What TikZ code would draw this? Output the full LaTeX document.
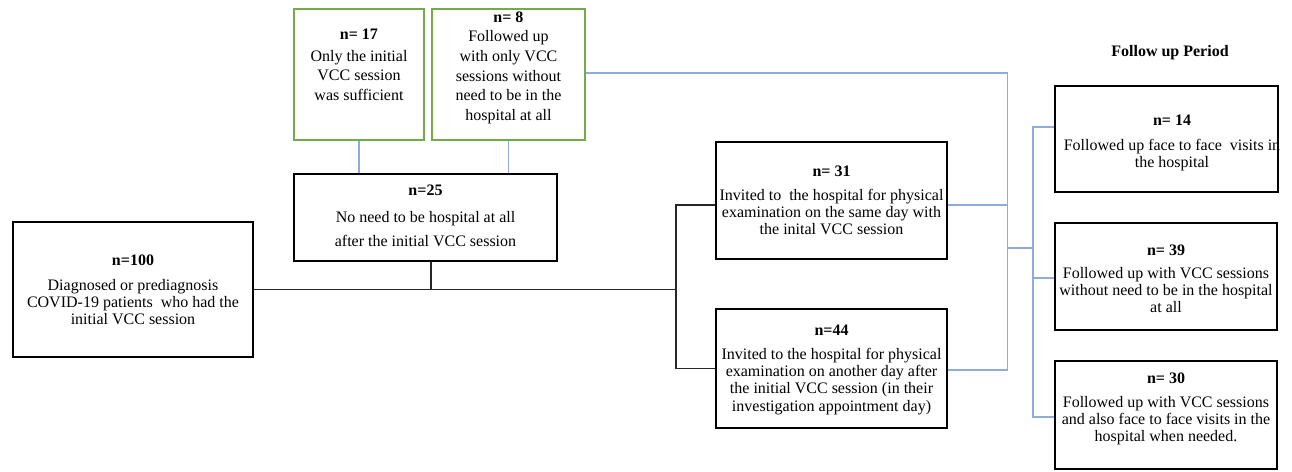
\documentclass[tikz,border=0pt]{standalone}
\usepackage{fontspec}
\setmainfont{Liberation Serif}
\definecolor{gbord}{HTML}{70AD47}
\definecolor{bline}{HTML}{8FAADC}
\definecolor{kline}{HTML}{262626}
\begin{document}
\begin{tikzpicture}[x=1pt,y=-1pt,
  box/.style={draw=black,line width=2pt,inner sep=0pt,fill=none},
  thickbox/.style={box,line width=2.6pt},
  thinbox/.style={box,line width=1.3pt},
  greenbox/.style={draw=gbord,line width=1.5pt,inner sep=0pt},
  txt/.style={inner sep=0pt,align=center,anchor=north,font=\fontsize{16}{17.3}\selectfont},
  bconn/.style={draw=bline,line width=1.2pt},
  kconn/.style={draw=kline,line width=1.2pt}]
\useasboundingbox (0,0) rectangle (1292,471);
% boxes
\node[greenbox,minimum width=130pt,minimum height=131pt] (b17) at (359,74.5) {};
\node[greenbox,minimum width=153pt,minimum height=131pt] (b8) at (508.5,74.5) {};
\node[thickbox,minimum width=263pt,minimum height=87pt] (b25) at (425.5,217.5) {};
\node[box,minimum width=240pt,minimum height=135pt] (b100) at (133,289.5) {};
\node[box,minimum width=231pt,minimum height=117pt] (b31) at (831.5,200.5) {};
\node[box,minimum width=231pt,minimum height=119pt] (b44) at (831.5,368.5) {};
\node[thickbox,minimum width=223pt,minimum height=106pt] (b14) at (1166.5,139) {};
\node[thinbox,minimum width=222pt,minimum height=107pt] (b39) at (1166,276.5) {};
\node[thinbox,minimum width=222pt,minimum height=108pt] (b30) at (1166,415) {};
% texts
\node[txt,font=\fontsize{16}{19.5}\selectfont] (t17) at (359,28.5) {\textbf{n= 17}\\[2.5pt]Only the initial\\VCC session\\was sufficient};
\node[txt,font=\fontsize{16}{19.6}\selectfont] (t8) at (508.5,11.5) {\textbf{n= 8}\\Followed up\\with only VCC\\sessions without\\need to be in the\\hospital at all};
\node[txt,font=\fontsize{16}{24}\selectfont] (t25) at (425.5,184.5) {\textbf{n=25}\\[3pt]No need to be hospital at all\\after the initial VCC session};
\node[txt] (t100) at (133,254.5) {\textbf{n=100}\\[7.7pt]Diagnosed or prediagnosis\\COVID-19 patients\ \ who had the\\initial VCC session};
\node[txt] (t31) at (831.5,165.5) {\textbf{n= 31}\\[6.7pt]Invited to\ \ the hospital for physical\\examination on the same day with\\the inital VCC session};
\node[txt] (t44) at (831.5,324.5) {\textbf{n=44}\\[6.7pt]Invited to the hospital for physical\\examination on another day after\\the initial VCC session (in their\\investigation appointment day)};
\node[txt] (t14) at (1172,114.5) {\textbf{n= 14}\\[7.7pt]Followed up face to face\ \ visits in\\the hospital};
\node[txt] (t39) at (1166,244.5) {\textbf{n= 39}\\[5.7pt]Followed up with VCC sessions\\without need to be in the hospital\\at all};
\node[txt] (t30) at (1166,372.5) {\textbf{n= 30}\\[6.7pt]Followed up with VCC sessions\\and also face to face visits in the\\hospital when needed.};
\node[txt] (tf) at (1170,45.5) {\textbf{Follow up Period}};
% junctions
\coordinate (j1) at (1007.5,248);
\coordinate (j2) at (1033,248);
\coordinate (j3) at (676,289.5);
% blue connectors
\draw[bconn] (b17.south) -- (b17.south |- b25.north);
\draw[bconn] (b8.south) -- (b8.south |- b25.north);
\draw[bconn] ([yshift=1.5pt]b8.east) -| (j1) -- (j1 |- b44.east);
\draw[bconn] ([yshift=-4.5pt]b31.east) -- ([yshift=-4.5pt]b31.east -| j1);
\draw[bconn] ([yshift=-1.5pt]b44.east) -- ([yshift=-1.5pt]b44.east -| j1);
\draw[bconn] (j1) -- (j2);
\draw[bconn] ([yshift=12pt]b14.west) -| (j2);
\draw[bconn] ([yshift=-2pt]b30.west) -| (j2);
\draw[bconn] ([yshift=-1.5pt]b39.west) -- ([yshift=-1.5pt]b39.west -| j2);
% black connectors
\draw[kconn] (b100.east) -- (j3);
\draw[kconn] ([xshift=5.5pt]b25.south) -- ([xshift=5.5pt]b25.south |- j3);
\draw[kconn] ([yshift=-4.5pt]b31.west) -| (j3);
\draw[kconn] (b44.west) -| (j3);
\end{tikzpicture}
\end{document}
